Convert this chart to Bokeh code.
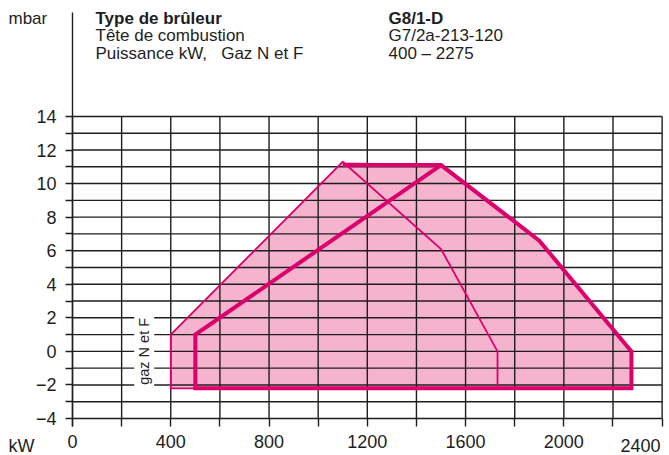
from math import pi
from bokeh.plotting import figure
from bokeh.models import Label, FixedTicker, Range1d
from bokeh.embed import file_html
from bokeh.resources import INLINE

# ---- data -------------------------------------------------------------
x_ticks = [0, 400, 800, 1200, 1600, 2000, 2400]
x_minor = [200, 600, 1000, 1400, 1800, 2200]
y_ticks = [-4, -2, 0, 2, 4, 6, 8, 10, 12, 14]
y_minor = [-3, -1, 1, 3, 5, 7, 9, 11, 13]

# outer envelope (filled area)
env_kw = [400, 400, 1100, 1500, 1900, 2275, 2275]
env_mbar = [-2.2, 1.0, 11.3, 11.1, 6.6, 0.0, -2.2]
# thin curve
thin_kw = [500, 400, 400, 1100, 1500, 1730, 1730]
thin_mbar = [-2.2, -2.2, 1.0, 11.3, 6.1, 0.0, -2.2]
# thick curve (working field)
thick_kw = [1100, 1500, 1900, 2275, 2275, 500, 500, 1500]
thick_mbar = [11.1, 11.1, 6.6, 0.0, -2.2, -2.2, 1.0, 11.1]

header_left = ["Type de brûleur", "Tête de combustion", "Puissance kW,\u00a0\u00a0 Gaz N et F"]
header_right = ["G8/1-D", "G7/2a-213-120", "400 – 2275"]

# ---- style --------------------------------------------------------------
FONT = "Liberation Sans"
INK = "#1e1e1e"
PINK = "#F6B3CE"
MAGENTA = "#DC006C"
GRID_W = 1.4
W, H = 669, 455

# whole canvas is the frame; axes are pinned at x=0 and y=-4
p = figure(width=W, height=H,
           x_range=Range1d(-293, 2430), y_range=Range1d(-6.205, 20.91),
           min_border=0, output_backend="svg", toolbar_location=None)
p.outline_line_color = None
p.xgrid.visible = False
p.ygrid.visible = False
p.background_fill_color = "white"

# filled envelope
p.patch(env_kw, env_mbar, fill_color=PINK, line_color=None)

# grid lines
ys = sorted(y_ticks + y_minor)
xs = sorted(x_ticks + x_minor)
p.segment(x0=[x_ticks[0]] * len(ys), y0=ys, x1=[x_ticks[-1]] * len(ys), y1=ys,
          line_color=INK, line_width=GRID_W)
p.segment(x0=xs, y0=[y_ticks[0]] * len(xs), x1=xs, y1=[y_ticks[-1]] * len(xs),
          line_color=INK, line_width=GRID_W)

# curves
p.line(thin_kw, thin_mbar, line_color=MAGENTA, line_width=1.8, line_join="miter")
p.line(thick_kw, thick_mbar, line_color=MAGENTA, line_width=4, line_join="miter")

# axes
ya = p.yaxis[0]
ya.fixed_location = x_ticks[0]
ya.bounds = (-4.5, 20.2)
ya.ticker = FixedTicker(ticks=y_ticks, minor_ticks=y_minor)
ya.major_tick_out = 7
ya.minor_tick_out = 7
ya.major_tick_in = 0
ya.minor_tick_in = 0
ya.major_tick_line_color = INK
ya.minor_tick_line_color = INK
ya.major_tick_line_width = GRID_W
ya.minor_tick_line_width = GRID_W
ya.axis_line_color = INK
ya.axis_line_width = GRID_W
ya.major_label_standoff = 9
ya.major_label_text_font = FONT
ya.major_label_text_font_size = "18px"
ya.major_label_text_color = INK

xa = p.xaxis[0]
xa.fixed_location = y_ticks[0]
xa.bounds = (x_ticks[0], x_ticks[-1])
xa.ticker = FixedTicker(ticks=x_ticks, minor_ticks=x_minor)
xa.major_tick_out = 8
xa.minor_tick_out = 8
xa.major_tick_in = 0
xa.minor_tick_in = 0
xa.major_tick_line_color = INK
xa.minor_tick_line_color = INK
xa.major_tick_line_width = GRID_W
xa.minor_tick_line_width = GRID_W
xa.axis_line_color = None
xa.major_label_standoff = 9
xa.major_label_text_font = FONT
xa.major_label_text_font_size = "18px"
xa.major_label_text_color = INK
xa.major_label_overrides = {x_ticks[-1]: ""}

def slabel(text, sx, sy, bold=False, size="17px", align="left"):
    # sx, sy: page pixels from the top-left corner (text baseline)
    p.add_layout(Label(x=sx, y=H - sy, x_units="screen", y_units="screen",
                       text=text, text_align=align, text_baseline="alphabetic",
                       text_font=FONT, text_font_size=size, text_color=INK,
                       text_font_style="bold" if bold else "normal"))

slabel("mbar", 8, 17.5)
slabel("kW", 8, 445, size="18px")
slabel(str(x_ticks[-1]), 660, 445, size="18px", align="right")
base = [17.5, 35, 52.5]
for i, t in enumerate(header_left):
    slabel(t, 95, base[i], bold=(i == 0))
for i, t in enumerate(header_right):
    slabel(t, 388, base[i], bold=(i == 0))

# rotated gas label
p.add_layout(Label(x=292, y=0.0, text="gaz N et F", angle=pi / 2,
                   text_align="center", text_baseline="middle",
                   text_font=FONT, text_font_size="14.5px", text_color=INK,
                   background_fill_color="white", padding=2))

open("out.html", "w").write(file_html(p, INLINE))
